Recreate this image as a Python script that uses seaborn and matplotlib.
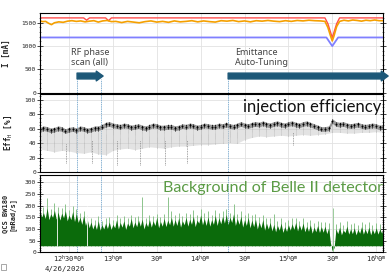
import matplotlib
matplotlib.use("Agg")
import matplotlib.pyplot as plt
import numpy as np
import seaborn as sns
from matplotlib.patches import Rectangle
from matplotlib.ticker import MultipleLocator

# x axis: minutes after 12:00 on 4/26/2026
tick_minutes = [30, 60, 90, 120, 150, 180, 210, 240]
tick_labels = [r"12$^h$30$^m$0$^s$", r"13$^h$0$^m$", r"30$^m$", r"14$^h$0$^m$",
               r"30$^m$", r"15$^h$0$^m$", r"30$^m$", r"16$^h$0$^m$"]
date_label = "4/26/2026"

# beam current [mA]
red_t = [10, 40, 42, 44, 55, 57, 59, 205, 207, 210, 213, 215, 245]
red_v = [1605, 1605, 1555, 1605, 1605, 1545, 1605, 1605, 1480, 1180, 1480, 1605, 1605]
orange_t = [10, 12, 14, 16, 18, 20, 23, 26, 29, 32, 35, 38, 41, 44, 47, 50, 53, 56, 59, 62,
            66, 70, 74, 78, 82, 86, 90, 94, 98, 102, 106, 110, 114, 118, 122, 126, 130, 134,
            138, 142, 146, 150, 154, 158, 162, 166, 170, 174, 178, 182, 186, 190, 194, 198,
            202, 205, 207, 209, 210, 211, 213, 215, 218, 221, 224, 227, 230, 233, 236, 239,
            242, 245]
orange_v = [1540, 1525, 1530, 1490, 1460, 1500, 1520, 1510, 1535, 1545, 1530, 1540, 1520,
            1535, 1545, 1515, 1540, 1550, 1525, 1530, 1505, 1530, 1515, 1500, 1525, 1540,
            1515, 1530, 1510, 1540, 1520, 1530, 1545, 1520, 1540, 1525, 1515, 1545, 1535,
            1550, 1525, 1540, 1520, 1545, 1535, 1550, 1535, 1525, 1545, 1530, 1550, 1540,
            1555, 1545, 1540, 1530, 1400, 1200, 1110, 1200, 1420, 1530, 1555, 1540, 1560,
            1550, 1535, 1555, 1545, 1560, 1545, 1545]
blue_t = [10, 206, 210, 214, 245]
blue_v = [1185, 1185, 1000, 1185, 1185]

# injection efficiency [%]: dense black band every 2.5 min, grey tail every 5 min
eff_t = [10 + 2.5 * i for i in range(95)]
eff_band = [59, 61, 60, 58, 59, 61, 60, 57, 59, 60,
            58, 61, 60, 58, 59, 61, 61, 63, 66, 67,
            65, 64, 63, 65, 64, 62, 63, 64, 62, 61,
            63, 65, 64, 62, 62, 63, 63, 61, 62, 64,
            63, 65, 64, 62, 63, 65, 64, 63, 63, 65,
            64, 66, 64, 63, 65, 67, 65, 64, 66, 67,
            66, 68, 66, 65, 67, 68, 66, 65, 67, 68,
            66, 65, 67, 68, 66, 64, 62, 60, 60, 61,
            71, 67, 66, 67, 65, 64, 65, 66, 64, 63,
            64, 65, 64, 62, 63]
tail_t = list(range(10, 250, 5))
tail_low = [32, 30, 28, 30, 29, 27, 26, 28, 25, 24, 30, 32, 33, 31, 33, 35, 34, 33, 35, 36,
            36, 37, 38, 38, 39, 40, 41, 40, 45, 48, 50, 49, 50, 51, 50, 51, 52, 51, 52, 53,
            55, 55, 54, 54, 55, 55, 56, 55]
streak_t = [28, 45.5, 62.5, 78.5, 95.5, 111, 183]
streak_lo = [12, 12, 10, 10, 10, 13, 37]
streak_hi = [40, 45, 45, 45, 45, 45, 55]

# QCS BW180 background [mRad/s]: peaks every 2.5 min, valleys in between
bg_t = [10 + 2.5 * i for i in range(95)]
bg_peak = [185, 170, 190, 165, 180, 172, 168, 178, 160, 175,
           165, 150, 158, 140, 130, 122, 135, 118, 125, 130,
           120, 140, 128, 135, 125, 145, 130, 138, 142, 128,
           140, 135, 150, 132, 145, 138, 150, 140, 148, 135,
           150, 142, 155, 138, 160, 145, 152, 140, 158, 148,
           155, 162, 150, 165, 145, 155, 140, 150, 138, 142,
           130, 140, 125, 128, 120, 115, 125, 110, 118, 122,
           128, 118, 125, 112, 118, 108, 115, 110, 112, 105,
           8, 100, 108, 95, 112, 100, 105, 98, 110, 100,
           108, 98, 105, 100, 110]
bg_valley_t = [11.25 + 2.5 * i for i in range(94)]
bg_valley = [150, 145, 140, 150, 142, 138, 148, 135, 140, 132,
             128, 120, 115, 105, 100, 98, 95, 100, 102, 98,
             105, 100, 108, 98, 112, 105, 110, 112, 100, 110,
             108, 115, 105, 112, 110, 118, 112, 115, 108, 118,
             112, 120, 110, 125, 118, 115, 112, 120, 115, 122,
             125, 118, 128, 115, 120, 108, 115, 105, 110, 100,
             105, 95, 100, 92, 88, 95, 85, 90, 95, 98,
             92, 95, 88, 90, 82, 88, 85, 86, 80, 40,
             20, 80, 75, 85, 78, 80, 75, 82, 78, 80,
             75, 80, 78, 82]
bg_spike = [225, 195, 232, 185, 210, 195, 190, 205, 180, 200,
            185, 168, 178, 160, 148, 140, 155, 135, 145, 150,
            140, 160, 145, 155, 145, 160, 150, 155, 235, 145,
            160, 155, 165, 150, 165, 235, 175, 160, 170, 155,
            170, 165, 180, 160, 185, 170, 175, 160, 180, 168,
            175, 185, 170, 205, 165, 175, 160, 170, 158, 165,
            150, 160, 145, 148, 165, 135, 145, 130, 138, 145,
            148, 135, 145, 130, 138, 125, 135, 128, 130, 125,
            10, 122, 128, 115, 132, 120, 125, 118, 130, 120,
            128, 118, 125, 120, 130]
bg_base = 28
gap_t = [21.8, 42.3]

# operation periods (minutes)
rf_scan = (35.5, 53.3)
emit_tuning = (138.8, 248.2)
marker_t = [35.5, 51.8, 138.8]

sns.set_theme(style="white")
plt.rcParams["font.family"] = ["DejaVu Sans Mono"]
plt.rcParams["mathtext.fontset"] = "custom"
plt.rcParams["mathtext.rm"] = "DejaVu Sans Mono"
plt.rcParams["mathtext.it"] = "DejaVu Sans Mono"

fig = plt.figure(figsize=(3.89, 2.73), dpi=100)
ax1 = fig.add_axes([0.103, 0.6604, 0.882, 0.292])
ax2 = fig.add_axes([0.103, 0.370, 0.882, 0.2857], sharex=ax1)
ax3 = fig.add_axes([0.103, 0.0758, 0.882, 0.283], sharex=ax1)

vline_kw = dict(color="#8ab4d4", lw=0.7, ls=(0, (1.5, 0.8)), zorder=0.8)

# --- top: beam current
sns.lineplot(x=red_t, y=red_v, ax=ax1, color="#ff4d4d", lw=1.0)
sns.lineplot(x=blue_t, y=blue_v, ax=ax1, color="#8080ff", lw=1.3)
sns.lineplot(x=orange_t, y=orange_v, ax=ax1, color="#f5a000", lw=1.2)
ax1.set_ylim(0, 1710)
ax1.yaxis.set_major_locator(MultipleLocator(500))
ax1.yaxis.set_minor_locator(MultipleLocator(100))
ax1.set_ylabel("I [mA]", fontsize=5.5, fontweight="bold")
ax1.yaxis.set_label_coords(-0.085, 0.5)

arrow_y = 358
for x in marker_t:
    ax1.axvline(x, ymin=0, ymax=0.175, **vline_kw)
for (x0, x1) in [rf_scan, emit_tuning]:
    ax1.annotate("", xy=(x1, arrow_y), xytext=(x0, arrow_y), annotation_clip=False,
                 arrowprops=dict(arrowstyle="simple,head_width=1.0,head_length=0.7,tail_width=0.6",
                                 color="#1d5878", mutation_scale=7, shrinkA=0, shrinkB=0))
ax1.text(31.4, 755, "RF phase\nscan (all)", fontsize=6.5, color="#444444",
         family="Noto Sans", va="center", ha="left", linespacing=1.15)
ax1.text(143.5, 755, "Emittance\nAuto-Tuning", fontsize=6.5, color="#444444",
         family="Noto Sans", va="center", ha="left", linespacing=1.15)

# --- middle: injection efficiency
band = np.array(eff_band)
for x in marker_t:
    ax2.axvline(x, **vline_kw)
ax2.fill_between(tail_t, tail_low, np.array(eff_band[::2]) - 2, color="#c8c8c8",
                 alpha=0.5, lw=0, zorder=1)
ax2.vlines(tail_t, tail_low, np.array(eff_band[::2]) - 3, color="#8a8a8a", lw=0.4,
           ls=(0, (0.8, 1.2)), zorder=1.5)
ax2.fill_between(eff_t, band - 3.5, band + 3, color="#707070", alpha=0.7, lw=0, zorder=2)
ax2.vlines(eff_t, band - 3.5, band + 3, color="#1a1a1a", lw=0.7,
           ls=(0, (1.2, 0.6)), zorder=2.5)
sns.scatterplot(x=eff_t, y=eff_band, ax=ax2, color="#000000", s=2, linewidth=0, zorder=3)
ax2.vlines(streak_t, streak_lo, streak_hi, color="#888888", lw=0.6, ls=(0, (1, 1)), zorder=2)
ax2.set_ylim(0, 108.3)
ax2.yaxis.set_major_locator(MultipleLocator(20))
ax2.yaxis.set_minor_locator(MultipleLocator(5))
ax2.set_ylabel(r"Eff$_{H}$ [%]", fontsize=5.5, fontweight="bold")
ax2.yaxis.set_label_coords(-0.075, 0.5)
ax2.text(149, 90, "injection efficiency", fontsize=12, family="Lato", color="#111111",
         va="center", ha="left")

# --- bottom: Belle II background
for x in marker_t:
    ax3.axvline(x, **vline_kw)
ax3.vlines(bg_t, bg_base, bg_spike, color="#8cc48c", lw=0.7, zorder=1)
peak_valley = sorted(zip(bg_t + bg_valley_t, bg_peak + bg_valley))
ax3.fill_between([p[0] for p in peak_valley], bg_base, [p[1] for p in peak_valley],
                 color="#0b6b0b", lw=0, zorder=2)
ax3.vlines(gap_t, bg_base, 200, color="white", lw=0.6, zorder=3)
ax3.vlines([210.5], 0, 190, color="#8cc48c", lw=0.6, zorder=3)
ax3.set_ylim(0, 331)
ax3.yaxis.set_major_locator(MultipleLocator(50))
ax3.yaxis.set_minor_locator(MultipleLocator(10))
ax3.set_ylabel("QCS BW180\n[mRad/s]", fontsize=5, fontweight="bold", linespacing=1.0)
ax3.yaxis.set_label_coords(-0.072, 0.5)
ax3.text(94.3, 275, "Background of Belle II detector", fontsize=11.6, family="Lato",
         color="#5b9b45", va="center", ha="left")

for ax in (ax1, ax2, ax3):
    ax.set_xlim(10.2, 244.8)
    ax.set_xticks(tick_minutes)
    ax.xaxis.set_minor_locator(MultipleLocator(10))
    ax.grid(True, which="major", color="#e2e2e2", lw=0.6)
    ax.set_axisbelow(True)
    for s in ax.spines.values():
        s.set_color("black")
        s.set_linewidth(0.8)
    ax.tick_params(axis="y", which="major", direction="inout", length=4, width=0.6,
                   labelsize=4.5, pad=1, right=True, left=True)
    ax.tick_params(axis="y", which="minor", direction="inout", length=2, width=0.4,
                   right=True, left=True)
    ax.tick_params(axis="x", which="major", direction="in", length=4, width=0.6, pad=1)
    ax.tick_params(axis="x", which="minor", direction="in", length=2, width=0.4)
    ax.set_xlabel("")

for ax in (ax1, ax2):
    ax.tick_params(axis="x", labelbottom=False)
ax3.set_xticklabels(tick_labels, fontsize=5)

fig.text(65 / 389, 1 - 268.5 / 273, date_label, fontsize=5.3, ha="center", va="center")
fig.patches.append(Rectangle((0.002, 0.012), 0.014, 0.02, transform=fig.transFigure,
                             fill=False, ec="#999999", lw=0.6))

fig.savefig("out.png", dpi=100)
